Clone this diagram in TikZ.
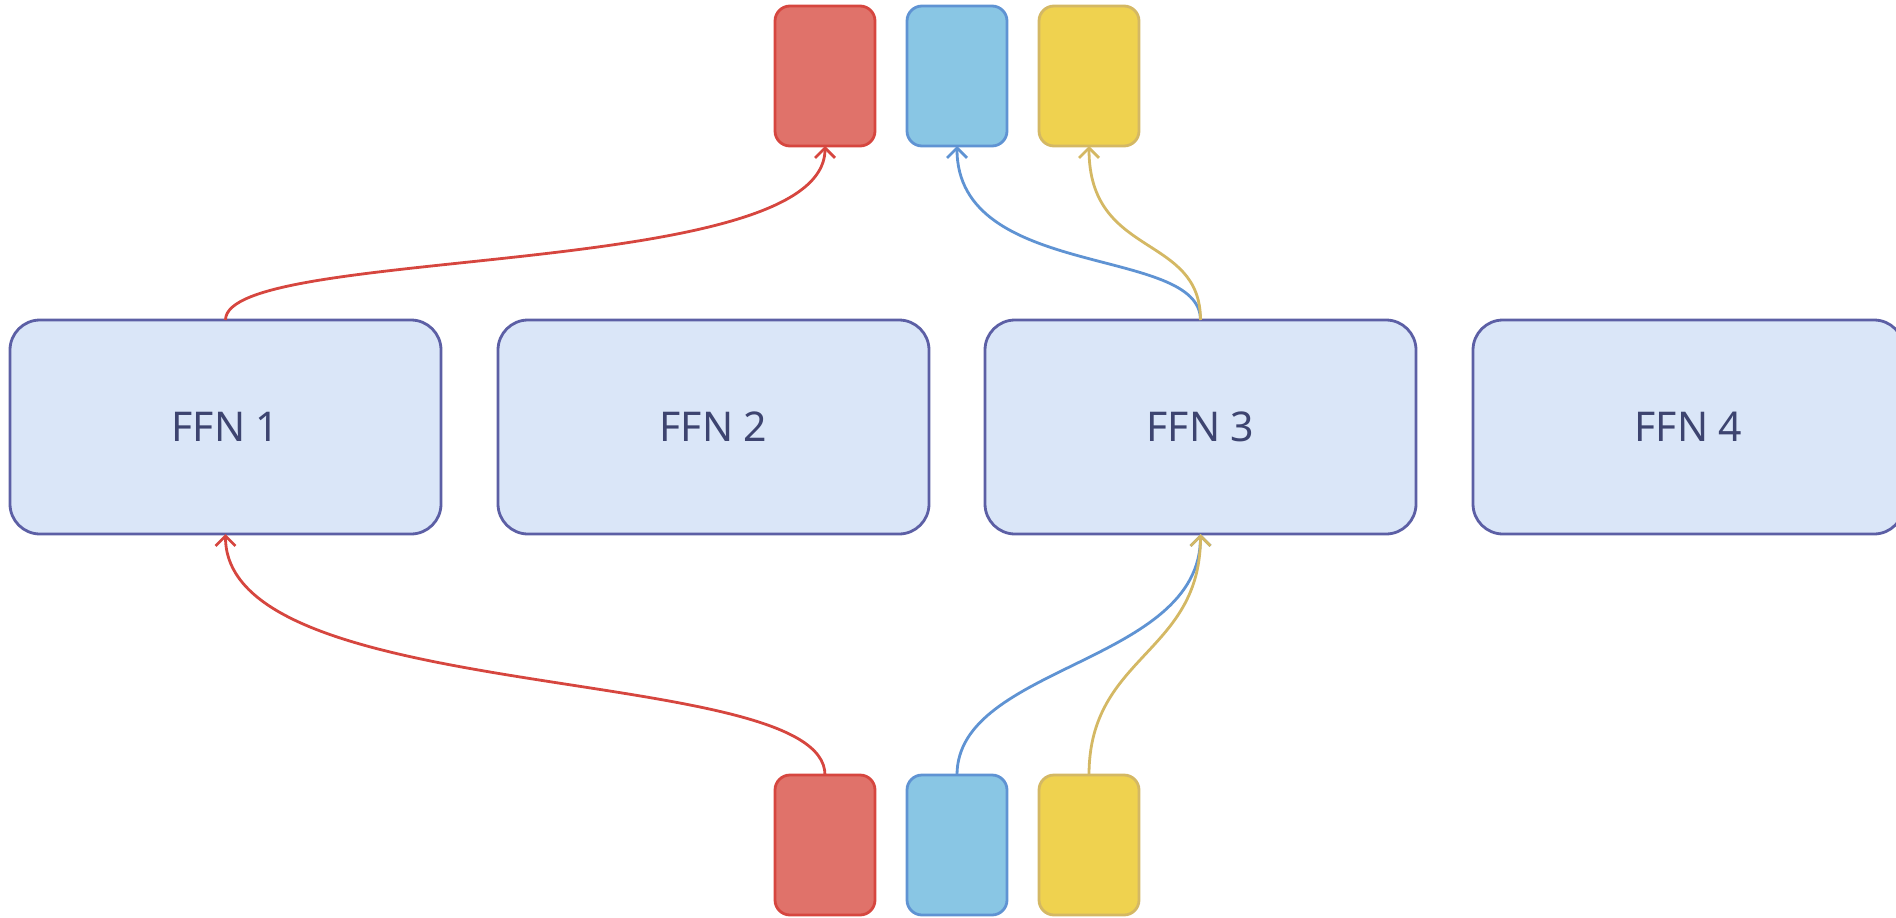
\documentclass[tikz,border=0pt]{standalone}
\usepackage{fontspec}
\setmainfont{Noto Sans}
\usetikzlibrary{arrows.meta,calc}

\definecolor{ffnfill}{HTML}{DAE6F8}
\definecolor{ffnline}{HTML}{5C5FA5}
\definecolor{ffntext}{HTML}{3D4470}
\definecolor{redfill}{HTML}{E0726A}
\definecolor{redline}{HTML}{D6463F}
\definecolor{bluefill}{HTML}{89C6E4}
\definecolor{blueline}{HTML}{5F93D3}
\definecolor{yellowfill}{HTML}{EFD24F}
\definecolor{yellowline}{HTML}{D4B864}

\tikzset{
	ffn/.style={draw=ffnline, fill=ffnfill, line width=2.8pt, rounded corners=30pt,
		minimum width=431pt, minimum height=214pt, inner sep=0pt, outer sep=0pt,
		text=ffntext, font=\fontsize{41}{49}\selectfont},
	token/.style={line width=2.8pt, rounded corners=15pt, minimum width=100pt,
		minimum height=140pt, inner sep=0pt, outer sep=0pt},
	route/.style={line width=2.8pt, -{Straight Barb[length=10pt,width=20pt]}},
}

\begin{document}
\begin{tikzpicture}[x=1pt, y=-1pt]
			%%%%% START %%%%%
			\useasboundingbox (0,0) rectangle (1896,918);
			
			\node[ffn] (ffn1) at (225.5,427) {FFN 1};
			\node[ffn] (ffn2) at (713.5,427) {FFN 2};
			\node[ffn] (ffn3) at (1200.5,427) {FFN 3};
			\node[ffn] (ffn4) at (1688.5,427) {FFN 4};
			
			\node[token, draw=redline, fill=redfill] (redtop) at (825,76) {};
			\node[token, draw=blueline, fill=bluefill] (bluetop) at (957,76) {};
			\node[token, draw=yellowline, fill=yellowfill] (yellowtop) at (1089,76) {};
			
			\node[token, draw=redline, fill=redfill] (redbot) at (825,845) {};
			\node[token, draw=blueline, fill=bluefill] (bluebot) at (957,845) {};
			\node[token, draw=yellowline, fill=yellowfill] (yellowbot) at (1089,845) {};
			
			\draw[route, redline] (redbot.north) .. controls +(0,-113) and +(0,174) .. (ffn1.south);
			\draw[route, blueline] (bluebot.north) .. controls +(0,-110) and +(0,130) .. (ffn3.south);
			\draw[route, yellowline] (yellowbot.north) .. controls +(0,-120) and +(0,120) .. (ffn3.south);
			
			\draw[route, redline] (ffn1.north) .. controls +(0,-75) and +(0,135) .. (redtop.south);
			\draw[route, blueline] (ffn3.north) .. controls +(0,-75) and +(0,135) .. (bluetop.south);
			\draw[route, yellowline] (ffn3.north) .. controls +(0,-87) and +(0,113) .. (yellowtop.south);
			
			%%%%% END %%%%%
\end{tikzpicture}
\end{document}
